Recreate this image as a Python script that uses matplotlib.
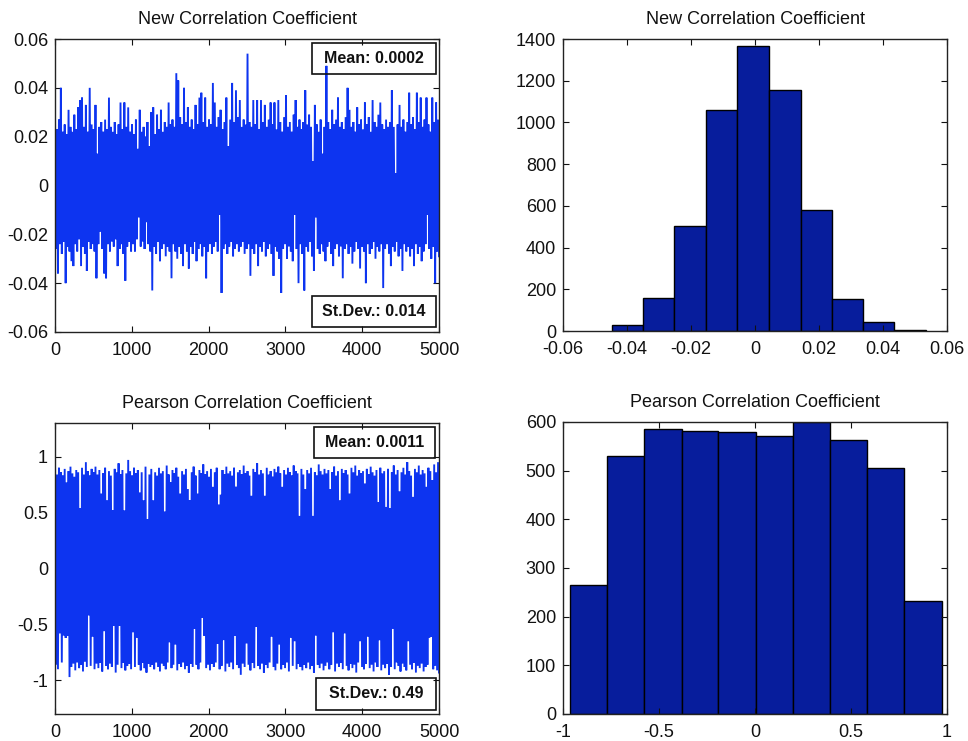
import numpy as np
import matplotlib
matplotlib.use("Agg")
import matplotlib.pyplot as plt
from matplotlib.patches import Rectangle

plt.rcParams['font.family'] = ['Liberation Sans', 'DejaVu Sans']

# ---------------- data ----------------
# Time series: extreme values (upper / lower) along the 5000 samples
new_hi = [
    0.026, 0.023, 0.027, 0.040, 0.022, 0.025, 0.021, 0.031, 0.024, 0.022,
    0.029, 0.023, 0.032, 0.035, 0.036, 0.024, 0.033, 0.022, 0.040, 0.025,
    0.023, 0.033, 0.013, 0.024, 0.026, 0.022, 0.027, 0.023, 0.036, 0.024,
    0.022, 0.026, 0.021, 0.025, 0.034, 0.023, 0.034, 0.024, 0.032, 0.022,
    0.025, 0.021, 0.027, 0.015, 0.031, 0.022, 0.024, 0.020, 0.026, 0.016,
    0.030, 0.032, 0.021, 0.029, 0.023, 0.031, 0.022, 0.026, 0.024, 0.034,
    0.025, 0.027, 0.024, 0.046, 0.043, 0.028, 0.025, 0.040, 0.026, 0.032,
    0.024, 0.027, 0.023, 0.033, 0.025, 0.036, 0.038, 0.026, 0.036, 0.024,
    0.027, 0.025, 0.042, 0.034, 0.024, 0.028, 0.031, 0.023, 0.026, 0.036,
    0.016, 0.027, 0.042, 0.026, 0.039, 0.028, 0.035, 0.024, 0.027, 0.025,
    0.054, 0.026, 0.024, 0.035, 0.025, 0.035, 0.023, 0.035, 0.026, 0.033,
    0.024, 0.027, 0.034, 0.025, 0.034, 0.023, 0.035, 0.026, 0.022, 0.028,
    0.037, 0.024, 0.026, 0.022, 0.029, 0.035, 0.024, 0.027, 0.023, 0.026,
    0.039, 0.025, 0.029, 0.024, 0.010, 0.033, 0.025, 0.022, 0.027, 0.013,
    0.024, 0.049, 0.026, 0.023, 0.031, 0.025, 0.027, 0.036, 0.024, 0.026,
    0.023, 0.028, 0.040, 0.031, 0.024, 0.026, 0.022, 0.032, 0.025, 0.027,
    0.023, 0.034, 0.025, 0.028, 0.022, 0.035, 0.026, 0.024, 0.029, 0.034,
    0.025, 0.023, 0.027, 0.024, 0.026, 0.039, 0.024, 0.005, 0.025, 0.033,
    0.024, 0.027, 0.022, 0.026, 0.038, 0.025, 0.028, 0.023, 0.038, 0.026,
    0.036, 0.024, 0.027, 0.036, 0.025, 0.022, 0.036, 0.026, 0.034, 0.027,
]
new_lo = [
    -0.026, -0.036, -0.024, -0.028, -0.023, -0.040, -0.025, -0.027, -0.031, -0.033,
    -0.024, -0.027, -0.022, -0.033, -0.025, -0.028, -0.035, -0.023, -0.026, -0.024,
    -0.027, -0.038, -0.024, -0.019, -0.026, -0.036, -0.038, -0.024, -0.027, -0.023,
    -0.025, -0.022, -0.033, -0.026, -0.024, -0.028, -0.039, -0.025, -0.023, -0.027,
    -0.024, -0.027, -0.022, -0.013, -0.025, -0.023, -0.026, -0.015, -0.024, -0.027,
    -0.043, -0.025, -0.028, -0.023, -0.031, -0.026, -0.024, -0.029, -0.025, -0.027,
    -0.038, -0.024, -0.027, -0.030, -0.025, -0.028, -0.033, -0.024, -0.027, -0.034,
    -0.025, -0.028, -0.023, -0.031, -0.026, -0.024, -0.029, -0.025, -0.038, -0.027,
    -0.024, -0.028, -0.025, -0.023, -0.027, -0.012, -0.044, -0.026, -0.024, -0.028,
    -0.025, -0.023, -0.029, -0.026, -0.024, -0.027, -0.025, -0.023, -0.028, -0.026,
    -0.024, -0.037, -0.026, -0.028, -0.024, -0.033, -0.025, -0.027, -0.023, -0.029,
    -0.026, -0.024, -0.028, -0.037, -0.025, -0.027, -0.030, -0.044, -0.026, -0.024,
    -0.030, -0.025, -0.027, -0.031, -0.012, -0.026, -0.040, -0.024, -0.028, -0.043,
    -0.025, -0.027, -0.023, -0.029, -0.035, -0.013, -0.026, -0.028, -0.024, -0.027,
    -0.031, -0.025, -0.023, -0.028, -0.033, -0.026, -0.024, -0.029, -0.025, -0.038,
    -0.026, -0.024, -0.028, -0.025, -0.032, -0.027, -0.023, -0.026, -0.034, -0.025,
    -0.027, -0.040, -0.024, -0.028, -0.026, -0.023, -0.030, -0.025, -0.027, -0.024,
    -0.042, -0.026, -0.024, -0.028, -0.033, -0.025, -0.027, -0.023, -0.029, -0.026,
    -0.035, -0.024, -0.027, -0.025, -0.029, -0.026, -0.033, -0.024, -0.028, -0.025,
    -0.031, -0.027, -0.024, -0.012, -0.026, -0.030, -0.025, -0.040, -0.027, -0.029,
]
pearson_hi = [
    0.88, 0.84, 0.90, 0.86, 0.83, 0.89, 0.77, 0.87, 0.91, 0.85,
    0.82, 0.88, 0.86, 0.54, 0.90, 0.84, 0.95, 0.87, 0.83, 0.89,
    0.86, 0.91, 0.84, 0.88, 0.67, 0.85, 0.90, 0.61, 0.87, 0.83,
    0.52, 0.89, 0.86, 0.94, 0.84, 0.88, 0.52, 0.85, 0.97, 0.87,
    0.83, 0.90, 0.85, 0.88, 0.68, 0.86, 0.61, 0.91, 0.44, 0.84,
    0.89, 0.61, 0.86, 0.83, 0.90, 0.85, 0.87, 0.51, 0.92, 0.84,
    0.77, 0.88, 0.85, 0.90, 0.82, 0.67, 0.87, 0.84, 0.89, 0.71,
    0.61, 0.86, 0.91, 0.83, 0.67, 0.88, 0.85, 0.93, 0.84, 0.87,
    0.82, 0.89, 0.73, 0.86, 0.90, 0.57, 0.66, 0.88, 0.84, 0.91,
    0.85, 0.87, 0.83, 0.90, 0.73, 0.86, 0.88, 0.84, 0.92, 0.85,
    0.87, 0.83, 0.65, 0.89, 0.86, 0.94, 0.84, 0.88, 0.85, 0.65,
    0.90, 0.84, 0.87, 0.82, 0.89, 0.86, 0.91, 0.85, 0.73, 0.88,
    0.84, 0.90, 0.86, 0.83, 0.92, 0.87, 0.85, 0.47, 0.89, 0.84,
    0.71, 0.88, 0.85, 0.90, 0.47, 0.86, 0.83, 0.93, 0.87, 0.84,
    0.89, 0.85, 0.88, 0.71, 0.86, 0.91, 0.83, 0.87, 0.61, 0.89,
    0.85, 0.88, 0.84, 0.67, 0.90, 0.86, 0.92, 0.83, 0.88, 0.85,
    0.87, 0.76, 0.89, 0.84, 0.91, 0.86, 0.83, 0.88, 0.59, 0.90,
    0.85, 0.87, 0.55, 0.89, 0.54, 0.86, 0.92, 0.84, 0.88, 0.69,
    0.86, 0.90, 0.84, 0.95, 0.87, 0.83, 0.64, 0.89, 0.86, 0.92,
    0.84, 0.88, 0.85, 0.73, 0.90, 0.87, 0.79, 0.93, 0.86, 0.95,
]
pearson_lo = [
    -0.86, -0.90, -0.58, -0.84, -0.60, -0.62, -0.60, -0.97, -0.88, -0.85,
    -0.91, -0.84, -0.89, -0.86, -0.92, -0.83, -0.88, -0.42, -0.87, -0.61,
    -0.90, -0.85, -0.89, -0.84, -0.92, -0.56, -0.87, -0.90, -0.85, -0.88,
    -0.51, -0.93, -0.86, -0.51, -0.89, -0.84, -0.91, -0.87, -0.85, -0.90,
    -0.57, -0.88, -0.62, -0.86, -0.91, -0.84, -0.89, -0.93, -0.85, -0.88,
    -0.86, -0.90, -0.84, -0.88, -0.92, -0.85, -0.87, -0.90, -0.84, -0.66,
    -0.89, -0.86, -0.68, -0.91, -0.85, -0.88, -0.84, -0.90, -0.87, -0.93,
    -0.85, -0.88, -0.54, -0.86, -0.90, -0.84, -0.44, -0.60, -0.89, -0.86,
    -0.91, -0.85, -0.88, -0.84, -0.67, -0.90, -0.87, -0.64, -0.92, -0.85,
    -0.88, -0.84, -0.90, -0.60, -0.86, -0.89, -0.95, -0.85, -0.88, -0.67,
    -0.86, -0.91, -0.84, -0.89, -0.52, -0.87, -0.90, -0.85, -0.93, -0.86,
    -0.89, -0.84, -0.61, -0.88, -0.91, -0.85, -0.68, -0.90, -0.86, -0.89,
    -0.84, -0.92, -0.62, -0.87, -0.65, -0.90, -0.85, -0.88, -0.91, -0.86,
    -0.89, -0.84, -0.90, -0.87, -0.93, -0.60, -0.86, -0.89, -0.85, -0.91,
    -0.87, -0.84, -0.90, -0.86, -0.57, -0.92, -0.85, -0.88, -0.84, -0.90,
    -0.58, -0.87, -0.91, -0.85, -0.89, -0.86, -0.93, -0.84, -0.65, -0.88,
    -0.90, -0.85, -0.61, -0.89, -0.86, -0.92, -0.84, -0.88, -0.64, -0.91,
    -0.86, -0.89, -0.85, -0.95, -0.88, -0.54, -0.90, -0.84, -0.87, -0.92,
    -0.85, -0.88, -0.91, -0.65, -0.86, -0.90, -0.84, -0.93, -0.87, -0.89,
    -0.85, -0.92, -0.88, -0.86, -0.62, -0.61, -0.90, -0.87, -0.91, -0.93,
]
n_samples = 5000

# Histograms
new_edges = [-0.0448, -0.0349, -0.0252, -0.0153, -0.0057, 0.0043,
             0.0143, 0.0241, 0.0338, 0.0435, 0.0534]
new_counts = [29, 160, 504, 1058, 1368, 1154, 581, 152, 43, 6]
pearson_edges = [-0.964, -0.769, -0.577, -0.380, -0.191, 0.005,
                 0.196, 0.391, 0.582, 0.776, 0.972]
pearson_counts = [265, 531, 586, 582, 580, 571, 599, 562, 505, 233]

# Annotations
title_new = "New Correlation Coefficient"
title_pearson = "Pearson Correlation Coefficient"
new_mean_txt = "Mean: 0.0002"
new_std_txt = "St.Dev.: 0.014"
pearson_mean_txt = "Mean: 0.0011"
pearson_std_txt = "St.Dev.: 0.49"

# Ticks
ts_xticks = [0, 1000, 2000, 3000, 4000, 5000]
ts_xlabels = ["0", "1000", "2000", "3000", "4000", "5000"]
new_yticks = [-0.06, -0.04, -0.02, 0, 0.02, 0.04, 0.06]
new_ylabels = ["-0.06", "-0.04", "-0.02", "0", "0.02", "0.04", "0.06"]
pearson_yticks = [-1, -0.5, 0, 0.5, 1]
pearson_ylabels = ["-1", "-0.5", "0", "0.5", "1"]
newh_xticks = new_yticks
newh_xlabels = new_ylabels
newh_yticks = [0, 200, 400, 600, 800, 1000, 1200, 1400]
newh_ylabels = [str(v) for v in newh_yticks]
pearh_xticks = [-1, -0.5, 0, 0.5, 1]
pearh_xlabels = ["-1", "-0.5", "0", "0.5", "1"]
pearh_yticks = [0, 100, 200, 300, 400, 500, 600]
pearh_ylabels = [str(v) for v in pearh_yticks]

# ---------------- styling ----------------
LINE_C = '#0d34f0'
BAR_C = '#071d9c'
FS = 13

fig = plt.figure(figsize=(9.68, 7.41), dpi=100)
W, H = 968.0, 741.0


def add_ax(l, t, r, b):
    return fig.add_axes([l / W, 1 - b / H, (r - l) / W, (b - t) / H])


ax_tl = add_ax(55, 39, 439, 332)
ax_tr = add_ax(563, 39, 947, 331)
ax_bl = add_ax(55, 423, 439, 714)
ax_br = add_ax(563, 422, 947, 714)


def style(ax, xt, xl, yt, yl, xlim, ylim, title):
    ax.set_xlim(*xlim)
    ax.set_ylim(*ylim)
    ax.set_xticks(xt)
    ax.set_xticklabels(xl)
    ax.set_yticks(yt)
    ax.set_yticklabels(yl)
    ax.tick_params(direction='in', length=4, width=0.8, top=True, right=True,
                   labelsize=FS, colors='#111111')
    ax.tick_params(axis='x', pad=7)
    ax.tick_params(axis='y', pad=5)
    for s in ax.spines.values():
        s.set_linewidth(1.0)
        s.set_color('#222222')
    ax.set_title(title, fontsize=FS, pad=11, color='#111111')


def series_xy(hi, lo):
    n = len(hi)
    y = np.empty(2 * n)
    y[0::2] = hi
    y[1::2] = lo
    x = np.linspace(1, n_samples, 2 * n)
    return x, y


def add_box(ax, x0, y0, x1, y1, txt):
    ax.add_patch(Rectangle((x0, y0), x1 - x0, y1 - y0, transform=ax.transAxes,
                           facecolor='none', edgecolor='#111111', lw=1.2, zorder=5))
    ax.text((x0 + x1) / 2, (y0 + y1) / 2, txt, transform=ax.transAxes,
            ha='center', va='center', fontsize=11.5, fontweight='bold',
            color='#111111', zorder=6)


# top-left: new coefficient series
x, y = series_xy(new_hi, new_lo)
ax_tl.plot(x, y, color=LINE_C, lw=1.35, solid_joinstyle='miter')
style(ax_tl, ts_xticks, ts_xlabels, new_yticks, new_ylabels,
      (0, 5000), (-0.06, 0.06), title_new)
add_box(ax_tl, 0.669, 0.881, 0.992, 0.986, new_mean_txt)
add_box(ax_tl, 0.669, 0.017, 0.992, 0.123, new_std_txt)

# bottom-left: pearson series
x, y = series_xy(pearson_hi, pearson_lo)
ax_bl.plot(x, y, color=LINE_C, lw=1.35, solid_joinstyle='miter')
style(ax_bl, ts_xticks, ts_xlabels, pearson_yticks, pearson_ylabels,
      (0, 5000), (-1.3, 1.3), title_pearson)
add_box(ax_bl, 0.674, 0.880, 0.990, 0.986, pearson_mean_txt)
add_box(ax_bl, 0.680, 0.014, 0.992, 0.124, pearson_std_txt)

# top-right: histogram new coefficient
ax_tr.bar(new_edges[:-1], new_counts, width=np.diff(new_edges), align='edge',
          color=BAR_C, edgecolor='#000000', linewidth=1.0)
style(ax_tr, newh_xticks, newh_xlabels, newh_yticks, newh_ylabels,
      (-0.06, 0.06), (0, 1400), title_new)

# bottom-right: histogram pearson
ax_br.bar(pearson_edges[:-1], pearson_counts, width=np.diff(pearson_edges), align='edge',
          color=BAR_C, edgecolor='#000000', linewidth=1.0)
style(ax_br, pearh_xticks, pearh_xlabels, pearh_yticks, pearh_ylabels,
      (-1, 1), (0, 600), title_pearson)

fig.savefig('out.png', dpi=100)
